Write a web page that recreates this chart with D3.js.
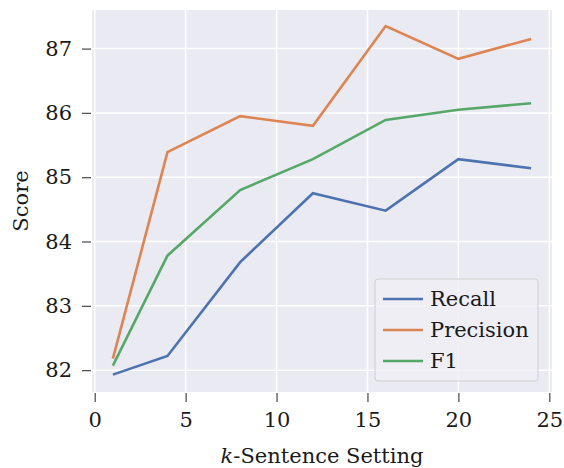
<!DOCTYPE html>
<html><head><meta charset="utf-8">
<script src="https://cdn.jsdelivr.net/npm/d3@7"></script>
<style>body{margin:0;background:#fff}svg{display:block}text{font-family:"DejaVu Serif",serif;fill:#1a1a1a}</style>
</head><body><div id="c"></div>
<script>
const kValues = [1, 4, 8, 12, 16, 20, 24];
const recall = [81.93, 82.22, 83.68, 84.75, 84.48, 85.28, 85.14];
const precision = [82.18, 85.39, 85.95, 85.80, 87.35, 86.84, 87.15];
const f1 = [82.07, 83.78, 84.80, 85.28, 85.89, 86.05, 86.15];
const xTicks = [0, 5, 10, 15, 20, 25];
const yTicks = [82, 83, 84, 85, 86, 87];
const seriesNames = ["Recall", "Precision", "F1"];
const seriesColors = ["#4C72B0", "#DD8452", "#55A868"];
const seriesData = [recall, precision, f1];

const FONT = '"DejaVu Serif",serif';
const FS = "21px";
const W = 564, H = 468;
const m = {left: 92, right: 12, top: 10, bottom: 76};
const svg = d3.select("#c").append("svg").attr("width", W).attr("height", H);
const x = d3.scaleLinear().domain([-0.15, 25.15]).range([m.left, W - m.right]);
const y = d3.scaleLinear().domain([81.66, 87.60]).range([H - m.bottom, m.top]);

svg.append("rect").attr("x", m.left).attr("y", m.top)
  .attr("width", W - m.right - m.left).attr("height", H - m.bottom - m.top).attr("fill", "#EAEAF2");

const g = svg.append("g");
g.selectAll(".gx").data(xTicks).join("line")
  .attr("x1", d => x(d)).attr("x2", d => x(d)).attr("y1", m.top).attr("y2", H - m.bottom)
  .attr("stroke", "#fff").attr("stroke-width", 1.5);
g.selectAll(".gy").data(yTicks).join("line")
  .attr("y1", d => y(d)).attr("y2", d => y(d)).attr("x1", m.left).attr("x2", W - m.right)
  .attr("stroke", "#fff").attr("stroke-width", 1.5);

const xAxis = svg.append("g").attr("transform", `translate(0,${H - m.bottom + 1})`)
  .call(d3.axisBottom(x).tickValues(xTicks).tickSize(9).tickPadding(10).tickFormat(d3.format("d")));
const yAxis = svg.append("g").attr("transform", `translate(${m.left - 1},0)`)
  .call(d3.axisLeft(y).tickValues(yTicks).tickSize(9).tickPadding(10).tickFormat(d3.format("d")));
[xAxis, yAxis].forEach(a => {
  a.attr("font-family", FONT);
  a.select(".domain").remove();
  a.selectAll(".tick line").attr("stroke", "#555").attr("stroke-width", 1.3);
  a.selectAll(".tick text").style("font-family", FONT).style("font-size", FS).attr("fill", "#1a1a1a");
});

const line = d3.line().x((d, i) => x(kValues[i])).y(d => y(d));
seriesData.forEach((s, i) => {
  svg.append("path").datum(s).attr("d", line).attr("fill", "none")
    .attr("stroke", seriesColors[i]).attr("stroke-width", 2.6).attr("stroke-linejoin", "miter");
});

svg.append("text").attr("x", (m.left + W - m.right) / 2).attr("y", 463)
  .attr("text-anchor", "middle").style("font-family", FONT).style("font-size", FS)
  .html('<tspan font-style="italic">k</tspan>-Sentence Setting');
svg.append("text").attr("transform", `translate(28,${(m.top + H - m.bottom) / 2}) rotate(-90)`)
  .attr("text-anchor", "middle").style("font-family", FONT).style("font-size", FS).text("Score");

const lg = svg.append("g");
lg.append("rect").attr("x", 375).attr("y", 279).attr("width", 163).attr("height", 102).attr("rx", 3)
  .attr("fill", "#EEEEF5").attr("fill-opacity", 0.85).attr("stroke", "#d0d0d0").attr("stroke-width", 1);
seriesNames.forEach((n, i) => {
  const yy = 299 + i * 31;
  lg.append("line").attr("x1", 383).attr("x2", 423).attr("y1", yy).attr("y2", yy)
    .attr("stroke", seriesColors[i]).attr("stroke-width", 2.6);
  lg.append("text").attr("x", 430).attr("y", yy + 7).style("font-family", FONT).style("font-size", FS).text(n);
});
</script></body></html>
